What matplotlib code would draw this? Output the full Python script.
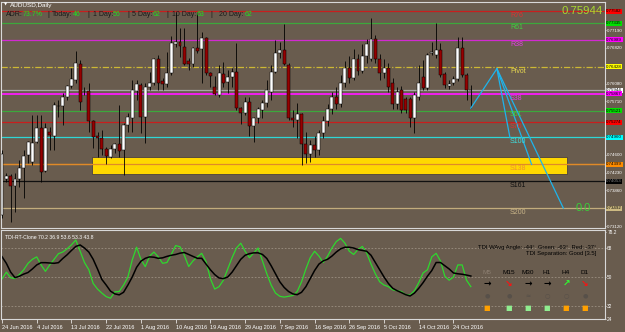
import numpy as np
import matplotlib.pyplot as plt
from matplotlib.transforms import blended_transform_factory

W, H = 625, 332
BG = '#695C4E'

# ---- candles (AUDUSD daily, Sunday bars included) ----
opens = [0.7335, 0.7410, 0.7416, 0.7395, 0.7410, 0.7433, 0.7460, 0.7445, 0.7487, 0.7516,
         0.7426, 0.7507, 0.7499, 0.7562, 0.7562, 0.7580, 0.7603, 0.7616, 0.7649, 0.7593,
         0.7593, 0.7530, 0.7499, 0.7495, 0.7472, 0.7455, 0.7472, 0.7482, 0.7470, 0.7522,
         0.7537, 0.7593, 0.7605, 0.7539, 0.7601, 0.7609, 0.7659, 0.7614, 0.7607, 0.7630,
         0.7690, 0.7695, 0.7684, 0.7655, 0.7649, 0.7682, 0.7680, 0.7703, 0.7630, 0.7601,
         0.7584, 0.7628, 0.7611, 0.7622, 0.7632, 0.7557, 0.7547, 0.7570, 0.7520, 0.7537,
         0.7553, 0.7568, 0.7591, 0.7632, 0.7672, 0.7678, 0.7647, 0.7537, 0.7532, 0.7545,
         0.7482, 0.7462, 0.7480, 0.7470, 0.7505, 0.7530, 0.7555, 0.7580, 0.7565, 0.7610,
         0.7640, 0.7620, 0.7660, 0.7635, 0.7665, 0.7660, 0.7700, 0.7660, 0.7630, 0.7640,
         0.7610, 0.7565, 0.7595, 0.7576, 0.7576, 0.7537, 0.7580, 0.7622, 0.7599, 0.7672,
         0.7668, 0.7678, 0.7628, 0.7603, 0.7609, 0.7618, 0.7682, 0.7626, 0.7595]
highs = [0.7470, 0.7422, 0.7420, 0.7422, 0.7449, 0.7470, 0.7489, 0.7543, 0.7543, 0.7543,
         0.7526, 0.7518, 0.7570, 0.7574, 0.7589, 0.7605, 0.7641, 0.7676, 0.7657, 0.7601,
         0.7609, 0.7532, 0.7507, 0.7512, 0.7476, 0.7480, 0.7485, 0.7564, 0.7526, 0.7547,
         0.7616, 0.7616, 0.7609, 0.7609, 0.7632, 0.7661, 0.7668, 0.7620, 0.7674, 0.7707,
         0.7757, 0.7724, 0.7724, 0.7661, 0.7684, 0.7757, 0.7715, 0.7705, 0.7632, 0.7624,
         0.7647, 0.7653, 0.7636, 0.7641, 0.7693, 0.7559, 0.7580, 0.7580, 0.7539, 0.7559,
         0.7574, 0.7616, 0.7647, 0.7699, 0.7695, 0.7732, 0.7651, 0.7553, 0.7568, 0.7547,
         0.7507, 0.7491, 0.7500, 0.7512, 0.7540, 0.7565, 0.7590, 0.7600, 0.7625, 0.7655,
         0.7665, 0.7680, 0.7670, 0.7690, 0.7700, 0.7745, 0.7710, 0.7670, 0.7660, 0.7650,
         0.7620, 0.7600, 0.7603, 0.7580, 0.7580, 0.7590, 0.7647, 0.7657, 0.7672, 0.7695,
         0.7734, 0.7693, 0.7632, 0.7616, 0.7624, 0.7705, 0.7705, 0.7630, 0.7605]
lows = [0.7329, 0.7403, 0.7320, 0.7341, 0.7393, 0.7370, 0.7443, 0.7439, 0.7485, 0.7403,
        0.7424, 0.7470, 0.7470, 0.7539, 0.7522, 0.7574, 0.7599, 0.7609, 0.7553, 0.7584,
        0.7507, 0.7474, 0.7455, 0.7460, 0.7441, 0.7453, 0.7464, 0.7455, 0.7418, 0.7507,
        0.7507, 0.7574, 0.7505, 0.7485, 0.7595, 0.7605, 0.7595, 0.7595, 0.7601, 0.7626,
        0.7684, 0.7663, 0.7647, 0.7636, 0.7643, 0.7672, 0.7609, 0.7626, 0.7601, 0.7584,
        0.7580, 0.7601, 0.7589, 0.7601, 0.7553, 0.7524, 0.7543, 0.7499, 0.7487, 0.7526,
        0.7537, 0.7559, 0.7574, 0.7630, 0.7661, 0.7647, 0.7532, 0.7518, 0.7495, 0.7439,
        0.7443, 0.7445, 0.7455, 0.7460, 0.7495, 0.7520, 0.7545, 0.7555, 0.7560, 0.7600,
        0.7610, 0.7615, 0.7625, 0.7630, 0.7650, 0.7655, 0.7650, 0.7615, 0.7620, 0.7590,
        0.7555, 0.7555, 0.7547, 0.7547, 0.7518, 0.7505, 0.7574, 0.7595, 0.7595, 0.7668,
        0.7661, 0.7622, 0.7599, 0.7597, 0.7605, 0.7614, 0.7622, 0.7574, 0.7557]
closes = [0.7462, 0.7416, 0.7395, 0.7410, 0.7433, 0.7458, 0.7487, 0.7485, 0.7516, 0.7424,
          0.7516, 0.7501, 0.7564, 0.7561, 0.7580, 0.7603, 0.7618, 0.7651, 0.7570, 0.7592,
          0.7530, 0.7497, 0.7495, 0.7472, 0.7458, 0.7472, 0.7482, 0.7468, 0.7522, 0.7539,
          0.7595, 0.7607, 0.7539, 0.7601, 0.7609, 0.7659, 0.7609, 0.7607, 0.7630, 0.7693,
          0.7695, 0.7686, 0.7649, 0.7649, 0.7682, 0.7676, 0.7703, 0.7630, 0.7624, 0.7587,
          0.7630, 0.7609, 0.7622, 0.7632, 0.7557, 0.7547, 0.7570, 0.7520, 0.7537, 0.7555,
          0.7568, 0.7595, 0.7632, 0.7672, 0.7678, 0.7649, 0.7537, 0.7532, 0.7545, 0.7482,
          0.7462, 0.7480, 0.7470, 0.7505, 0.7530, 0.7555, 0.7580, 0.7565, 0.7610, 0.7640,
          0.7620, 0.7660, 0.7635, 0.7665, 0.7690, 0.7700, 0.7660, 0.7630, 0.7640, 0.7600,
          0.7565, 0.7590, 0.7553, 0.7553, 0.7537, 0.7584, 0.7609, 0.7599, 0.7668, 0.7674,
          0.7678, 0.7626, 0.7605, 0.7607, 0.7618, 0.7682, 0.7626, 0.7595, 0.7594]

# ---- TDI sub-window ----
tdi_green = [48.8, 53, 49.5, 49, 51.5, 54.5, 58.5, 61, 62.5, 57.5, 53.5, 57.5, 61, 64.5, 65.5,
             67.5, 70, 73, 66, 59, 54.5, 46, 42.5, 40, 37.8, 36.8, 40.8, 41, 45, 50,
             60.6, 68.5, 61, 56.4, 63, 65.5, 62.5, 58.5, 59, 64, 69.5, 68.8, 63.5, 56.5, 60,
             62.5, 64.7, 59.5, 49, 42.5, 44, 48, 55, 62, 68, 71, 66, 62, 65, 68,
             60, 52, 45, 40, 38, 37.5, 38, 38.5, 41, 47, 55, 62, 66, 63, 59,
             63, 68, 72, 74, 71, 66, 64, 67, 69, 65, 58, 52, 47, 45, 44,
             42, 41.5, 41, 39, 38.8, 41.5, 46.5, 52.5, 54.5, 62.5, 64.7, 60, 50.5, 48, 50,
             57.5, 57.5, 48, 44]
tdi_black = [62.6, 58.5, 53, 49.6, 50.5, 51.8, 52.8, 55, 57.5, 58.9, 58.9, 58.7, 58.5, 58.9, 61.5,
             63.8, 66.5, 69, 69.9, 68, 65.5, 61, 55, 48.5, 45, 41.2, 39.5, 38.9, 40.5, 45,
             50, 56, 59.8, 61.6, 62.5, 62.3, 61.6, 61.9, 62.8, 63.5, 64, 64.8, 65.2, 64, 62.8,
             61.6, 61.6, 58, 54.5, 51.5, 49.4, 49, 50, 53, 57, 61, 63.5, 64.5, 65, 65,
             64, 61.5, 57, 52, 47, 43.5, 41, 39.5, 39, 40.5, 44, 49, 54, 58, 60,
             61, 63, 65.5, 67.5, 68.5, 68.5, 68, 67, 66.5, 66, 63.5, 59, 54.5, 50, 46,
             43, 41.5, 40.3, 39, 38.2, 40, 43, 46.5, 50.5, 54, 59, 59, 57, 55, 52.5,
             52, 51.7, 51.2, 50.6]

date_labels = ['24 Jun 2016', '4 Jul 2016', '13 Jul 2016', '22 Jul 2016', '1 Aug 2016',
               '10 Aug 2016', '19 Aug 2016', '29 Aug 2016', '7 Sep 2016', '16 Sep 2016',
               '26 Sep 2016', '5 Oct 2016', '14 Oct 2016', '24 Oct 2016']
date_bars = [0, 8, 16, 24, 32, 40, 48, 56, 64, 72, 80, 88, 96, 104]

# fib levels
level_names = ['R76', 'R61', 'R38', 'Pivot', 'S38', 'S61', 'S76', 'S100', 'S138', 'S161', 'S200']
level_prices = [0.77582, 0.77335, 0.76989, 0.76428, 0.75867, 0.75521, 0.75274,
                0.74960, 0.74399, 0.74053, 0.73492]
level_colors = ['#C81E1E', '#3CA83C', '#D22AD2', '#CDB834', '#F020F0', '#3CA83C', '#C81E1E',
                '#2ED6D6', '#E08A28', '#101010', '#C2AC7C']
label_colors = ['#E03030', '#40D040', '#E040E0', '#E8D850', '#E040E0', '#40D040', '#E03030',
                '#40E0E0', '#F09030', '#101010', '#C8B488']
box_colors = ['#FF0000', '#00E000', '#FF00FF', '#FFFF00', '#FF00FF', '#00E000', '#FF0000',
              '#00FFFF', '#FF8C00', '#000000', '#CDBA82']
bid_price = 0.75944
zone_bars = [20.8, 130.2]
zone_prices = [0.74201, 0.74555]
proj_start = (108, 0.7557)
proj_peak = (114, 0.7639)
proj_ends = [(117, 0.74960), (122, 0.74399), (129.3, 0.73492)]
price_ticks = [0.77190, 0.76820, 0.76080, 0.75710, 0.74600, 0.74230, 0.73860, 0.73120]
tdi_ticks = [24, 32, 50, 68, 78.2]

plt.rcParams['font.family'] = ['Liberation Sans', 'DejaVu Sans']

fig = plt.figure(figsize=(W / 100, H / 100), dpi=100, facecolor=BG)


def fx(x, y):
    return x / W, 1 - y / H


ax = fig.add_axes([1 / W, 1 - 228 / H, 604 / W, 226 / H], facecolor=BG)
ax2 = fig.add_axes([1 / W, 1 - 319 / H, 604 / W, 89 / H], facecolor=BG)

n = len(opens)
idx = np.arange(n)
o = np.array(opens); c = np.array(closes)
up = c >= o

# levels
for name, pr, col, lc in zip(level_names, level_prices, level_colors, label_colors):
    if name == 'Pivot':
        ax.axhline(pr, color=col, lw=0.9, ls=(0, (5, 1.5, 1, 1.5)), zorder=1)
        ax.text(117, pr - 0.0003, name, color=lc, fontsize=5, ha='left', va='top', zorder=6)
    else:
        ax.axhline(pr, color=col, lw=1.4 if name == 'S38' else 0.9, zorder=1)
        ax.text(117, pr - 0.0002, name, color=lc, fontsize=5, ha='left', va='top', zorder=6)
ax.axhline(bid_price, color='#A8A8A8', lw=0.9, zorder=1)

ax.fill_between(zone_bars, zone_prices[0], zone_prices[1], color='#FFD800',
                edgecolor='#4A4040', lw=0.6, zorder=2)
ax.axhline(level_prices[8], color=level_colors[8], lw=0.9, zorder=2.1)

# candles
ax.vlines(idx, lows, highs, color='black', lw=0.6, zorder=3)
ax.bar(idx, c - o, bottom=o, width=0.68, color=np.where(up, 'white', '#960000'),
       edgecolor='black', lw=0.35, zorder=4)

# projection fan
cy = '#1EB4EC'
ax.plot([proj_start[0], proj_peak[0]], [proj_start[1], proj_peak[1]], color=cy, lw=0.9, zorder=5)
for ex, ey in proj_ends:
    ax.plot([proj_peak[0], ex], [proj_peak[1], ey], color=cy, lw=0.9, zorder=5)
ax.text(132.2, level_prices[-1], '0.0', color='#38D038', fontsize=8, va='center', ha='left')

ax.set_xlim(-0.23, 138.9)
ax.set_ylim(0.73079, 0.77776)
ax.set_xticks([])
ax.yaxis.tick_right()
ax.set_yticks(price_ticks)
ax.set_yticklabels([f'{t:.5f}' for t in price_ticks])
ax.tick_params(axis='y', colors='white', labelsize=3.2, length=1, width=0.5, pad=0.6)
for s in ax.spines.values():
    s.set_color('#D8D8D8'); s.set_linewidth(0.8)

tr = blended_transform_factory(ax.transAxes, ax.transData)
for pr, bc in zip(level_prices, box_colors):
    ax.text(1.002, pr, f'{pr:.5f}', transform=tr, fontsize=3.2, va='center', ha='left',
            color='#808080' if bc == '#000000' else 'black', clip_on=False, zorder=10,
            bbox=dict(boxstyle='square,pad=0.12', fc=bc, ec='none'))
ax.text(1.002, bid_price, f'{bid_price:.5f}', transform=tr, fontsize=3.2, va='center',
        ha='left', color='black', clip_on=False, zorder=9,
        bbox=dict(boxstyle='square,pad=0.12', fc='white', ec='none'))

# header texts
fig.text(*fx(4, 5), '\u25bc', color='white', fontsize=3, va='center', family='DejaVu Sans')
fig.text(*fx(10, 5), 'AUDUSD,Daily', color='white', fontsize=4.6, va='center')
hdr = [(6, 'ADR:', '#1A1A1A'), (23, '73.7%', '#20E020'), (47, '|', '#1A1A1A'),
       (52, 'Today:', '#1A1A1A'), (73, '46', '#20E020'), (87, '|', '#1A1A1A'),
       (93, '1 Day:', '#1A1A1A'), (113, '56', '#20E020'), (127, '|', '#1A1A1A'),
       (132, '5 Day:', '#1A1A1A'), (153, '62', '#20E020'), (166, '|', '#1A1A1A'),
       (172, '10 Day:', '#1A1A1A'), (197, '63', '#20E020'), (210, '|', '#1A1A1A'),
       (219, '20 Day:', '#1A1A1A'), (245, '62', '#20E020')]
for x, t, col in hdr:
    fig.text(*fx(x, 14), t, color=col, fontsize=5, va='center')
fig.text(*fx(603, 11), f'{bid_price:.5f}', color='#A8D830', fontsize=8.2, va='center', ha='right')

# ---- TDI panel ----
for lv in (68, 50, 32):
    ax2.axhline(lv, color='#9C9082', lw=0.6, ls=(0, (2, 2)))
ax2.plot(idx, tdi_green, color='#2ED82E', lw=0.9)
ax2.plot(idx, tdi_black, color='black', lw=1.1)
ax2.set_xlim(-0.23, 138.9)
ax2.set_ylim(23.9, 79.2)
ax2.yaxis.tick_right()
ax2.set_yticks(tdi_ticks)
ax2.set_yticklabels(['24', '32', '50', '68', '78.2'])
ax2.tick_params(axis='y', colors='white', labelsize=3.4, length=1, width=0.5, pad=0.6)
ax2.set_xticks(date_bars)
ax2.set_xticklabels(date_labels, ha='left')
ax2.tick_params(axis='x', colors='white', labelsize=4.0, length=3, width=0.5, pad=1)
for s in ax2.spines.values():
    s.set_color('#D8D8D8'); s.set_linewidth(0.8)
ax2.text(0.006, 0.94, 'TDI-RT-Clone 70.2 36.9 53.6 53.3 43.8', transform=ax2.transAxes,
         color='white', fontsize=3.7, va='top')

fig.text(*fx(596, 247), 'TDI WAvg Angle: -44\u00b0  Green: -63\u00b0  Red: -37\u00b0',
         color='black', fontsize=4.2, ha='right', va='center')
fig.text(*fx(596, 254), 'TDI Separation: Good [3.5]', color='black', fontsize=4.2,
         ha='right', va='center')
tfs = ['M5', 'M15', 'M30', 'H1', 'H4', 'D1']
tf_x = [487, 509, 528, 547, 566, 585]
arrows = ['\u2192', '\u2198', '\u2192', '\u2192', '\u2197', '\u2198']
arrow_cols = ['black', '#FF1010', 'black', 'black', '#30FF30', '#FF1010']
sq_cols = ['#FFA000', '#90EE90', '#90EE90', '#90EE90', '#FFA000', '#FFA000']
dots = ['\u25cf', '\u25cf', '\u2248', '\u25cb', '\u25cb', '\u25cf']
for x, t, a, ac, sc, d in zip(tf_x, tfs, arrows, arrow_cols, sq_cols, dots):
    fig.text(*fx(x, 272), t, color='#8C7E70' if t == 'M5' else 'black', fontsize=4.6,
             ha='center', va='center')
    fig.text(*fx(x, 284), a, color=ac, fontsize=6.5, ha='center', va='center',
             fontweight='bold', family='DejaVu Sans')
    fig.text(*fx(x, 296), d, color='#575049', fontsize=4.5, ha='center', va='center',
             family='DejaVu Sans', fontweight='bold')
    fig.text(*fx(x, 308), '\u25a0', color=sc, fontsize=5, ha='center', va='center',
             family='DejaVu Sans')

fig.savefig('out.png', dpi=100, facecolor=BG)
